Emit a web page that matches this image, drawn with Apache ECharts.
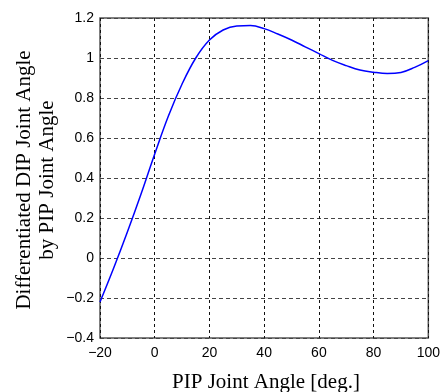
<!DOCTYPE html>
<html>
<head>
<meta charset="utf-8">
<script src="https://cdn.jsdelivr.net/npm/echarts@6/dist/echarts.min.js"></script>
<style>
html,body{margin:0;padding:0;background:#fff;}
#chart{width:443px;height:392px;}
</style>
</head>
<body>
<div id="chart"></div>
<script>
// PIP joint angle [deg.]
var pipAngle = [-20, -15, -10, -5, 0, 5, 10, 15, 20, 25, 30, 35, 40, 45, 50, 55, 60, 65, 70, 75, 80, 85, 90, 95, 100];
// Differentiated DIP joint angle by PIP joint angle
var dipDeriv = [-0.22, -0.05, 0.13, 0.32, 0.52, 0.71, 0.87, 1.00, 1.09, 1.14, 1.16, 1.162, 1.147, 1.12, 1.09, 1.056, 1.022, 0.988, 0.962, 0.94, 0.929, 0.923, 0.928, 0.953, 0.987];
var xTicks = [-20, 0, 20, 40, 60, 80, 100];
var yTicks = [-0.4, -0.2, 0, 0.2, 0.4, 0.6, 0.8, 1, 1.2];
var xTitle = 'PIP Joint Angle [deg.]';
var yTitle1 = 'Differentiated DIP Joint Angle';
var yTitle2 = 'by PIP Joint Angle';

var chart = echarts.init(document.getElementById('chart'), null, {renderer: 'canvas'});
var fmt = function (v) { return String(Math.round(v * 10) / 10).replace('-', '\u2212'); };
var points = pipAngle.map(function (x, i) { return [x, dipDeriv[i]]; });

chart.setOption({
  animation: false,
  backgroundColor: '#fff',
  grid: {left: 100, right: 12, top: 18, bottom: 54, show: true, borderColor: '#555', borderWidth: 1.5, backgroundColor: 'transparent'},
  xAxis: {
    type: 'value', min: xTicks[0], max: xTicks[xTicks.length - 1], interval: 20,
    axisLine: {show: false}, axisTick: {show: false},
    axisLabel: {color: '#000', fontFamily: 'Liberation Sans', fontSize: 14, margin: 8, formatter: fmt},
    splitLine: {show: true, lineStyle: {color: '#111', type: [3, 3], width: 1}}
  },
  yAxis: {
    type: 'value', min: yTicks[0], max: yTicks[yTicks.length - 1], interval: 0.2,
    axisLine: {show: false}, axisTick: {show: false},
    axisLabel: {color: '#000', fontFamily: 'Liberation Sans', fontSize: 14, margin: 6, formatter: fmt},
    splitLine: {show: true, lineStyle: {color: '#444', type: [4, 3], width: 1}}
  },
  graphic: [
    {type: 'text', x: 266, y: 382, style: {text: xTitle, font: '21px "Liberation Serif"', fill: '#000', textAlign: 'center', textVerticalAlign: 'middle'}},
    {type: 'text', x: 24, y: 180, rotation: Math.PI / 2, style: {text: yTitle1, font: '21px "Liberation Serif"', fill: '#000', textAlign: 'center', textVerticalAlign: 'middle'}},
    {type: 'text', x: 47, y: 180, rotation: Math.PI / 2, style: {text: yTitle2, font: '21px "Liberation Serif"', fill: '#000', textAlign: 'center', textVerticalAlign: 'middle'}}
  ],
  series: [{
    type: 'line', data: points, smooth: 0.4, showSymbol: false,
    lineStyle: {color: '#0000ff', width: 1.5}
  }]
});
</script>
</body>
</html>
